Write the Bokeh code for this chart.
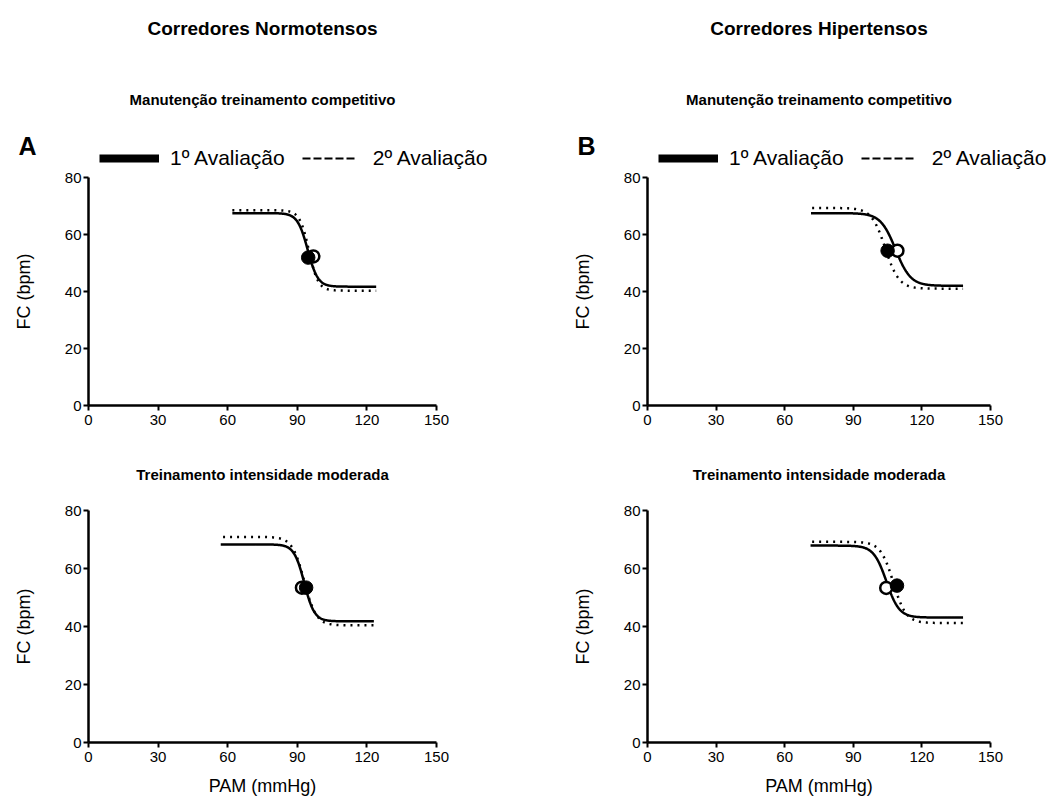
import numpy as np
from bokeh.plotting import figure
from bokeh.models import Range1d, FixedTicker, Label, Legend, LegendItem
from bokeh.layouts import column, row
from bokeh.embed import file_html
from bokeh.resources import INLINE

FONT = "Liberation Sans"

# ---------------- data ----------------
group_titles = ["Corredores Normotensos", "Corredores Hipertensos"]
row_titles = ["Manutenção treinamento competitivo", "Treinamento intensidade moderada"]
panel_letters = ["A", "B"]
legend_labels = ["1º Avaliação", "2º Avaliação"]
x_ticks = [0, 30, 60, 90, 120, 150]
y_ticks = [0, 20, 40, 60, 80]
x_label = "PAM (mmHg)"
y_label = "FC (bpm)"

# panel order: top-left, top-right, bottom-left, bottom-right
# fitted sigmoid (baroreflex) curves: plateau top, plateau bottom, BP50, slope, x extent
eval1_top = [67.5, 67.5, 68.3, 67.9]
eval1_bottom = [41.7, 42.0, 41.8, 43.1]
eval1_bp50 = [94.5, 108.5, 93.0, 104.5]
eval1_slope = [2.2, 3.3, 2.2, 2.8]
eval1_xmin = [62.0, 71.5, 57.0, 71.3]
eval1_xmax = [124.0, 138.0, 123.0, 138.0]

eval2_top = [68.5, 69.3, 70.9, 69.2]
eval2_bottom = [40.3, 41.0, 40.4, 41.2]
eval2_bp50 = [95.0, 104.0, 93.0, 107.5]
eval2_slope = [2.0, 3.0, 2.6, 2.8]
eval2_xmin = [62.0, 72.0, 58.0, 72.0]
eval2_xmax = [124.0, 138.0, 123.0, 138.0]

# BP50 markers (filled / open)
filled_x = [94.7, 105.0, 93.8, 109.1]
filled_y = [51.9, 54.3, 53.4, 54.1]
open_x = [96.9, 109.3, 92.0, 104.4]
open_y = [52.3, 54.3, 53.4, 53.3]

X_MAX = 150.0
Y_MAX = 80.0


def sigmoid_xy(top, bottom, mid, slope, x0, x1):
    xs = np.linspace(x0, x1, 300)
    ys = bottom + (top - bottom) / (1.0 + np.exp((xs - mid) / slope))
    return xs, ys


# ---------------- layout geometry (pixels) ----------------
# w,h: figure size; l,r,t,b: distance of the 0..150 / 0..80 axis box from the edges
geoms = [
    dict(w=527, h=440, l=88, r=91, t=177, b=35),
    dict(w=527, h=440, l=120, r=64, t=177, b=35),
    dict(w=527, h=356, l=88, r=91, t=70, b=54),
    dict(w=527, h=356, l=120, r=64, t=70, b=54),
]


def scales(g):
    sx = (g["w"] - g["l"] - g["r"]) / X_MAX
    sy = (g["h"] - g["t"] - g["b"]) / Y_MAX
    return sx, sy


def rel(g, dx, dy):
    """pixel offset from the axis box's top-left corner -> data coordinates"""
    sx, sy = scales(g)
    return dx / sx, Y_MAX - dy / sy


figs = []
for i in range(4):
    g = geoms[i]
    col = i % 2
    rw = i // 2
    sx, sy = scales(g)
    xr = Range1d(-g["l"] / sx, (g["w"] - g["l"]) / sx)
    yr = Range1d(-g["b"] / sy, Y_MAX + g["t"] / sy)
    p = figure(width=g["w"], height=g["h"], output_backend="svg", toolbar_location=None,
               x_range=xr, y_range=yr,
               min_border_left=0, min_border_right=0, min_border_top=0, min_border_bottom=0)
    p.outline_line_color = None
    p.grid.visible = False
    p.background_fill_color = "white"
    p.border_fill_color = "white"

    p.xaxis.fixed_location = 0
    p.yaxis.fixed_location = 0
    p.xaxis.bounds = (0, X_MAX)
    p.yaxis.bounds = (0, Y_MAX)
    for ax, ticks in ((p.xaxis, x_ticks), (p.yaxis, y_ticks)):
        ax.ticker = FixedTicker(ticks=ticks)
        ax.axis_line_width = 2.5
        ax.axis_line_color = "black"
        ax.major_tick_line_width = 2
        ax.major_tick_line_color = "black"
        ax.major_tick_out = 5
        ax.major_tick_in = 0
        ax.minor_tick_out = 0
        ax.minor_tick_in = 0
        ax.major_label_text_font = FONT
        ax.major_label_text_font_size = "15px"
        ax.major_label_text_color = "black"
        ax.major_label_standoff = 2
        ax.axis_label_text_font = FONT
        ax.axis_label_text_font_size = "18px"
        ax.axis_label_text_font_style = "normal"
        ax.axis_label_text_color = "black"
    p.xaxis.major_label_standoff = 4
    p.yaxis.axis_label = y_label
    p.yaxis.axis_label_standoff = 28
    if rw == 1:
        p.xaxis.axis_label = x_label
        p.xaxis.axis_label_standoff = 11

    # curves
    x1, y1 = sigmoid_xy(eval1_top[i], eval1_bottom[i], eval1_bp50[i], eval1_slope[i],
                        eval1_xmin[i], eval1_xmax[i])
    x2, y2 = sigmoid_xy(eval2_top[i], eval2_bottom[i], eval2_bp50[i], eval2_slope[i],
                        eval2_xmin[i], eval2_xmax[i])
    p.line(x2, y2, line_color="black", line_width=2.5, line_dash="2 5")
    p.line(x1, y1, line_color="black", line_width=2.5)
    p.scatter([open_x[i]], [open_y[i]], size=12, marker="circle", fill_color="white",
              line_color="black", line_width=2.5)
    p.scatter([filled_x[i]], [filled_y[i]], size=13.5, marker="circle", fill_color="black",
              line_color="black", line_width=1)

    # titles
    if rw == 0:
        _, hy = rel(g, 0, -149)
        p.add_layout(Label(x=X_MAX / 2, y=hy, text=group_titles[col], text_align="center",
                           text_baseline="alphabetic", text_font=FONT, text_font_size="19px",
                           text_font_style="bold", text_color="black"))
        _, ty = rel(g, 0, -78)
    else:
        _, ty = rel(g, 0, -36)
    p.add_layout(Label(x=X_MAX / 2, y=ty, text=row_titles[rw], text_align="center",
                       text_baseline="alphabetic", text_font=FONT, text_font_size="15px",
                       text_font_style="bold", text_color="black"))

    if rw == 0:
        lx, ly = rel(g, -70, -32)
        p.add_layout(Label(x=lx, y=ly, text=panel_letters[col], text_align="left",
                           text_baseline="alphabetic", text_font=FONT, text_font_size="25px",
                           text_font_style="bold", text_color="black"))
        # legend-only renderers (no visible data)
        r1 = p.line([np.nan], [np.nan], line_color="black", line_width=8)
        r2 = p.line([np.nan], [np.nan], line_color="black", line_width=2,
                    line_dash="8 3 8 3 8 3 8 3 8 20")
        leg = Legend(items=[LegendItem(label=legend_labels[0], renderers=[r1]),
                            LegendItem(label=legend_labels[1], renderers=[r2])],
                     location=(g["l"] + 11, g["h"] - g["t"] + 7), orientation="horizontal",
                     glyph_width=60, glyph_height=24, label_height=24,
                     label_standoff=11, spacing=17, padding=0, margin=0,
                     border_line_color=None, background_fill_alpha=0,
                     label_text_font=FONT, label_text_font_size="21px",
                     label_text_color="black")
        p.add_layout(leg, "center")
    figs.append(p)

layout = column(row(figs[0], figs[1]), row(figs[2], figs[3]))
open("out.html", "w").write(file_html(layout, INLINE))
